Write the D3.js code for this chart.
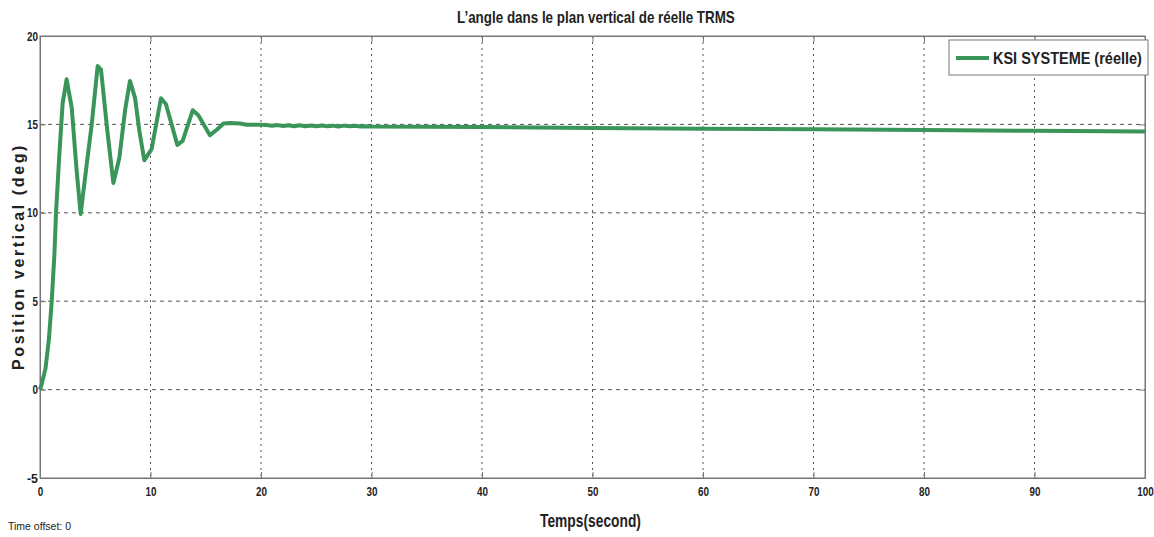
<!DOCTYPE html>
<html>

<head>
    <meta charset="utf-8">
    <title>TRMS angle vertical</title>
    <style>
        body { margin: 0; background: #fff; }
        text { font-family: "Liberation Sans", Arial, sans-serif; }
    </style>
</head>

<body>
    <script src='https://d3js.org/d3.v7.min.js'></script>
    <script>
    // data
    var temps = [0, 0.15, 0.5, 0.8, 1.06, 1.3, 1.45, 1.75, 2.05, 2.41, 2.87, 3.3, 3.68, 4.2, 4.68, 5.22, 5.52, 6.1, 6.64, 7.18,
        7.7, 8.14, 8.6, 9.0, 9.44, 10.1, 10.95, 11.4, 12.43, 12.91, 13.82, 14.33, 15.38, 16.0, 16.6, 17.2, 18.1, 18.7, 19.9,
        20.5, 21.0, 21.5, 22.0, 22.5, 23.0, 23.5, 24.0, 24.5, 25.0, 25.5, 26.0, 26.5, 27.0, 27.5, 28.0, 28.5, 29.0, 29.5, 30.0,
        40, 50, 60, 70, 80, 90, 100];
    var position = [0, 0.3, 1.2, 2.8, 5.0, 7.6, 10.0, 13.3, 16.2, 17.55, 15.95, 12.5, 9.93, 12.6, 15.0, 18.3, 18.1, 14.6, 11.68, 13.1,
        15.8, 17.46, 16.5, 14.6, 12.97, 13.6, 16.48, 16.14, 13.84, 14.07, 15.8, 15.52, 14.39, 14.7, 15.05, 15.08, 15.05, 14.98, 14.98,
        14.97, 14.92, 14.96, 14.91, 14.95, 14.9, 14.95, 14.9, 14.94, 14.89, 14.94, 14.9, 14.93, 14.88, 14.93, 14.89, 14.92, 14.88, 14.9, 14.88,
        14.85, 14.8, 14.76, 14.72, 14.68, 14.64, 14.6];
    var xTicks = [0, 10, 20, 30, 40, 50, 60, 70, 80, 90, 100];
    var yTicks = [-5, 0, 5, 10, 15, 20];
    var serieName = "KSI SYSTEME (réelle)";

    const width = 1154;
    const height = 537;
    const mLeft = 40, mRight = 1145, mTop = 36, mBottom = 478;
    const green = "#3a955a";

    var data = temps.map(function(t, i) { return {t: t, v: position[i]}; });

    var x = d3.scaleLinear().domain([0, 100]).range([mLeft, mRight]);
    var y = d3.scaleLinear().domain([-5, 20]).range([mBottom, mTop]);

    var svg = d3.select("body")
        .append("svg")
        .attr("width", width)
        .attr("height", height);

    // squeeze a text horizontally so it looks like the narrow font of the original
    function narrow(sel, target) {
        sel.each(function() {
            var el = d3.select(this);
            var w = this.getComputedTextLength();
            var want = typeof target === "function" ? target(this) : target;
            var x0 = +el.attr("x") || 0, y0 = +el.attr("y") || 0;
            var tr = el.attr("transform") || "";
            el.attr("x", 0).attr("y", 0)
              .attr("transform", tr + " translate(" + x0 + "," + y0 + ") scale(" + (want / w) + ",1)");
        });
    }

    // grid
    svg.append("g")
        .selectAll("line")
        .data(yTicks.slice(1, -1))
        .enter()
        .append("line")
        .attr("x1", mLeft).attr("x2", mRight)
        .attr("y1", function(d) { return y(d); })
        .attr("y2", function(d) { return y(d); })
        .attr("stroke", "#555")
        .attr("stroke-width", 1)
        .attr("stroke-dasharray", "4,4");

    svg.append("g")
        .selectAll("line")
        .data(xTicks.slice(1, -1))
        .enter()
        .append("line")
        .attr("x1", function(d) { return x(d); })
        .attr("x2", function(d) { return x(d); })
        .attr("y1", mTop).attr("y2", mBottom)
        .attr("stroke", "#555")
        .attr("stroke-width", 1)
        .attr("stroke-dasharray", "2,4");

    // axes
    var fmt = function(d) { return String(d); };
    svg.append("g")
        .attr("transform", "translate(0," + mBottom + ")")
        .call(d3.axisBottom(x).tickValues(xTicks).tickSize(-6).tickPadding(9).tickFormat(fmt));
    svg.append("g")
        .attr("transform", "translate(" + mLeft + ",0)")
        .call(d3.axisLeft(y).tickValues(yTicks).tickSize(-6).tickPadding(2).tickFormat(fmt));
    // top and right ticks
    svg.append("g")
        .attr("transform", "translate(0," + mTop + ")")
        .call(d3.axisTop(x).tickValues(xTicks).tickSize(-6).tickFormat(""));
    svg.append("g")
        .attr("transform", "translate(" + mRight + ",0)")
        .call(d3.axisRight(y).tickValues(yTicks).tickSize(-6).tickFormat(""));

    svg.selectAll(".domain").attr("stroke", "#777");
    svg.selectAll(".tick line").attr("stroke", "#777");
    svg.selectAll(".tick text")
        .attr("fill", "#222")
        .style("font-size", "13px")
        .style("font-weight", "bold")
        .call(narrow, function(el) { return el.textContent.length * 5.5; });

    svg.append("rect")
        .attr("x", mLeft).attr("y", mTop)
        .attr("width", mRight - mLeft).attr("height", mBottom - mTop)
        .attr("fill", "none")
        .attr("stroke", "#777");

    // line
    var line = d3.line()
        .x(function(d) { return x(d.t); })
        .y(function(d) { return y(d.v); });

    svg.append("path")
        .datum(data)
        .attr("d", line)
        .attr("fill", "none")
        .attr("stroke", green)
        .attr("stroke-width", 4)
        .attr("stroke-linejoin", "round");

    // legend
    var lg = svg.append("g").attr("transform", "translate(949,40)");
    lg.append("rect")
        .attr("width", 199).attr("height", 35)
        .attr("fill", "#fff")
        .attr("stroke", "#777");
    lg.append("line")
        .attr("x1", 7).attr("x2", 40)
        .attr("y1", 18).attr("y2", 18)
        .attr("stroke", green)
        .attr("stroke-width", 4);
    lg.append("text")
        .attr("x", 44).attr("y", 24)
        .style("font-size", "16px")
        .style("font-weight", "bold")
        .attr("fill", "#222")
        .text(serieName)
        .call(narrow, 149);

    // titles
    svg.append("text")
        .attr("x", 457).attr("y", 23)
        .style("font-size", "16px")
        .style("font-weight", "bold")
        .attr("fill", "#222")
        .text("L’angle dans le plan vertical de réelle TRMS")
        .call(narrow, 278);

    svg.append("text")
        .attr("x", 540).attr("y", 527)
        .style("font-size", "18px")
        .style("font-weight", "bold")
        .attr("fill", "#222")
        .text("Temps(second)")
        .call(narrow, 101);

    svg.append("text")
        .attr("transform", "translate(24,370) rotate(-90)")
        .style("font-size", "16px")
        .style("font-weight", "bold")
        .style("letter-spacing", "2.6px")
        .attr("fill", "#222")
        .text("Position vertical (deg)");

    svg.append("text")
        .attr("x", 8).attr("y", 530)
        .style("font-size", "11px")
        .attr("fill", "#222")
        .text("Time offset:  0")
        .call(narrow, 63);
    </script>
</body>

</html>
